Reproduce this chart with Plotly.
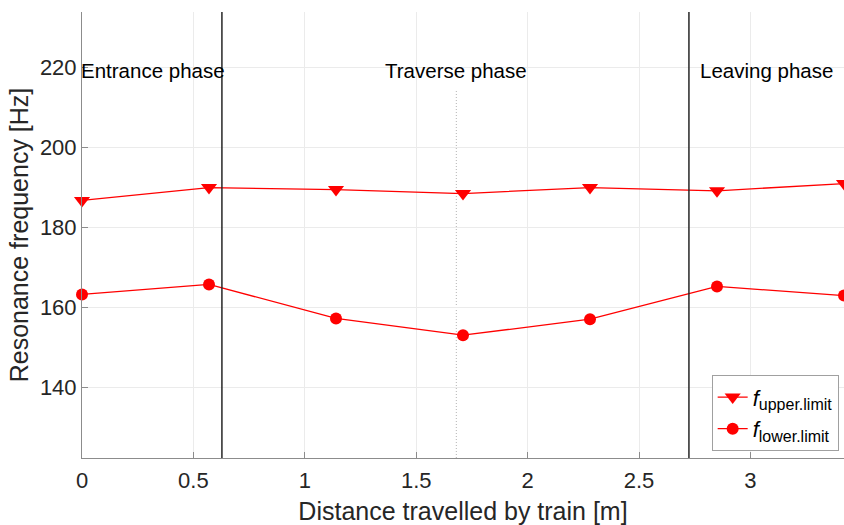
import plotly.graph_objects as go

# Train position along the bridge [m]
distance = [0, 0.57, 1.14, 1.71, 2.28, 2.85, 3.42]
# Resonance frequency limits [Hz]
f_upper = [186.7, 189.9, 189.4, 188.4, 189.9, 189.1, 190.9]
f_lower = [163.2, 165.7, 157.2, 153.0, 157.0, 165.2, 162.9]

# Phase boundaries and mid-span marker [m]
phase_bounds = [0.628, 2.724]
mid_span = 1.68
phase_labels = ["Entrance phase", "Traverse phase", "Leaving phase"]
phase_label_x = [0.318, 1.68, 3.07]

x_range = [0, 3.42]
y_range = [122.3, 233.8]

font_family = "Liberation Sans, Arial, sans-serif"
red = "#ff0000"
sub_style = "font-size:16px"

fig = go.Figure()

fig.add_trace(go.Scatter(
    x=distance, y=f_upper, mode="lines+markers",
    name=f"<i>f</i><sub><span style='{sub_style}'>upper.limit</span></sub>",
    line=dict(color=red, width=1.3),
    marker=dict(symbol="triangle-down", size=14, color=red),
    cliponaxis=False,
))
fig.add_trace(go.Scatter(
    x=distance, y=f_lower, mode="lines+markers",
    name=f"<i>f</i><sub><span style='{sub_style}'>lower.limit</span></sub>",
    line=dict(color=red, width=1.3),
    marker=dict(symbol="circle", size=12, color=red),
    cliponaxis=False,
))

for xb in phase_bounds:
    fig.add_shape(type="line", xref="x", yref="paper", x0=xb, x1=xb, y0=0, y1=1,
                  line=dict(color="#262626", width=1.5), layer="above")

fig.add_shape(type="line", xref="x", yref="y", x0=mid_span, x1=mid_span,
              y0=y_range[0], y1=214.5,
              line=dict(color="#b4b4b4", width=1, dash="1px,2px"), layer="below")

for label, lx in zip(phase_labels, phase_label_x):
    fig.add_annotation(x=lx, y=219.2, xref="x", yref="y", text=label,
                       showarrow=False, font=dict(size=20.5, color="#000000", family=font_family),
                       xanchor="center", yanchor="middle")

fig.update_layout(
    width=844, height=525,
    margin=dict(l=82, r=0, t=12, b=67),
    plot_bgcolor="white", paper_bgcolor="white",
    font=dict(family=font_family, color="#262626"),
    showlegend=True,
    legend=dict(
        x=0.993, y=0.015, xanchor="right", yanchor="bottom",
        bgcolor="white", bordercolor="#a0a0a0", borderwidth=1,
        font=dict(size=22, color="#000000", family=font_family),
        itemwidth=30, tracegroupgap=0,
    ),
    xaxis=dict(
        range=x_range, tickvals=[0, 0.5, 1, 1.5, 2, 2.5, 3],
        ticktext=["0", "0.5", "1", "1.5", "2", "2.5", "3"],
        showgrid=True, gridcolor="#ebebeb", gridwidth=1,
        showline=True, linecolor="#8c8c8c", linewidth=1,
        ticks="inside", ticklen=6, tickcolor="#8c8c8c",
        ticklabelstandoff=3,
        tickfont=dict(size=22, color="#262626"), zeroline=False,
        title=dict(text="Distance travelled by train [m]", font=dict(size=25, color="#262626"), standoff=12),
    ),
    yaxis=dict(
        range=y_range, tickvals=[140, 160, 180, 200, 220],
        showgrid=True, gridcolor="#ebebeb", gridwidth=1,
        showline=True, linecolor="#8c8c8c", linewidth=1,
        ticks="inside", ticklen=6, tickcolor="#8c8c8c",
        tickfont=dict(size=22, color="#262626"), zeroline=False,
        title=dict(text="Resonance frequency [Hz]", font=dict(size=25, color="#262626"), standoff=4),
    ),
)

fig.write_html("out.html")
